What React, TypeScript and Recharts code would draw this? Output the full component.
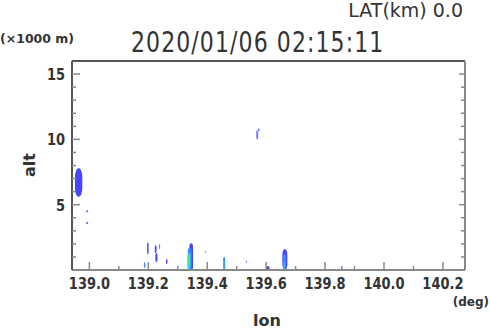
import { ComposedChart, XAxis, YAxis, Scatter, ReferenceArea } from "recharts";

// tick values
const lonMajorTicks = [139.0, 139.2, 139.4, 139.6, 139.8, 140.0, 140.2];
const lonMinorTicks = [139.1, 139.3, 139.5, 139.7, 139.9, 140.1];
const altMajorTicks = [5, 10, 15];
const altMinorTicks = [1, 2, 3, 4, 6, 7, 8, 9, 11, 12, 13, 14];

// echo patches: lon range, alt range (x1000 m), intensity level
const echoLon1 = [138.951, 139.566, 139.572, 139.185, 139.196, 139.222, 139.224, 139.236, 139.260,
  139.339, 139.334, 139.333, 139.334, 139.392, 139.454, 139.455, 139.531, 139.600,
  139.655, 139.658, 139.659, 139.855];
const echoLon2 = [138.976, 139.573, 139.578, 139.190, 139.201, 139.228, 139.231, 139.240, 139.265,
  139.352, 139.347, 139.343, 139.341, 139.395, 139.461, 139.458, 139.535, 139.612,
  139.672, 139.667, 139.663, 139.859];
const echoAlt1 = [5.6, 10.0, 10.6, 0.15, 1.2, 1.3, 0.6, 1.6, 0.45,
  0, 0, 0, 0.3, 1.3, 0, 0.1, 0.55, 0,
  0, 0, 0.1, 0];
const echoAlt2 = [7.8, 10.7, 10.85, 0.6, 2.1, 1.9, 1.3, 2.0, 0.85,
  2.05, 1.7, 1.3, 1.2, 1.5, 1.0, 0.7, 0.75, 0.3,
  1.6, 1.2, 0.6, 0.3];
const echoLevel = [1, 0, 0, 2, 1, 1, 1, 0, 1,
  1, 2, 3, 4, 0, 2, 3, 0, 1,
  1, 2, 3, 1];

// isolated single-pixel returns
const dotLon = [138.992, 138.992];
const dotAlt = [4.5, 3.6];

const levelColors = ["#8080ff", "#4646ff", "#3a8cff", "#20d0ff", "#40f080"];

const dots = dotLon.map((lon, i) => ({ lon, alt: dotAlt[i] }));
const echoes = echoLon1.map((l1, i) => ({
  x1: l1, x2: echoLon2[i], y1: echoAlt1[i], y2: echoAlt2[i], color: levelColors[echoLevel[i]],
}));

const lonTicks = [...lonMajorTicks, ...lonMinorTicks].sort((a, b) => a - b);
const altTicks = [...altMajorTicks, ...altMinorTicks].sort((a, b) => a - b);

const isMajor = (list: number[], v: number) => list.some(t => Math.abs(t - v) < 1e-6);

const TEXT = "#333";
const TICK = "#8a8a8a";
const FONT = "DejaVu Sans";

function BottomTick(props: any) {
  const { x, y, payload } = props;
  const major = isMajor(lonMajorTicks, payload.value);
  return (
    <g>
      <line x1={x} x2={x} y1={y} y2={y - (major ? 8 : 4)} stroke={TICK} strokeWidth={1.5} />
      {major && (
        <text transform={`translate(${x},${y + 19}) scale(1,1.2)`} textAnchor="middle" fill={TEXT}
          fontSize={13} fontWeight="bold" fontFamily={FONT}>{payload.value.toFixed(1)}</text>
      )}
    </g>
  );
}

function TopTick(props: any) {
  const { x, y, payload } = props;
  const major = isMajor(lonMajorTicks, payload.value);
  return <line x1={x} x2={x} y1={y} y2={y + (major ? 6 : 4)} stroke={TICK} strokeWidth={1.5} />;
}

function LeftTick(props: any) {
  const { x, y, payload } = props;
  const major = isMajor(altMajorTicks, payload.value);
  return (
    <g>
      <line x1={x} x2={x + (major ? 8 : 4)} y1={y} y2={y} stroke={TICK} strokeWidth={1.5} />
      {major && (
        <text transform={`translate(${x - 7},${y + 6}) scale(1,1.2)`} textAnchor="end" fill={TEXT}
          fontSize={13} fontWeight="bold" fontFamily={FONT}>{payload.value}</text>
      )}
    </g>
  );
}

function RightTick(props: any) {
  const { x, y, payload } = props;
  const major = isMajor(altMajorTicks, payload.value);
  return <line x1={x} x2={x - (major ? 6 : 4)} y1={y} y2={y} stroke={TICK} strokeWidth={1.5} />;
}

function EchoShape(props: any) {
  const { x, y, width, height, fill } = props;
  const rx = width / 2;
  const ry = Math.min(width * 1.2, height / 2);
  return <rect x={x} y={y} width={width} height={height} rx={rx} ry={ry} fill={fill} />;
}

export default function App() {
  const lonDomain = [138.941, 140.275];
  const altDomain = [0, 16];
  return (
    <div style={{ position: "absolute", left: 0, top: 0, width: 490, height: 331, background: "#fff" }}>
      <ComposedChart width={490} height={331} margin={{ top: 60, right: 24, bottom: 31, left: 12 }}>
        <XAxis xAxisId="b" dataKey="lon" type="number" domain={lonDomain} allowDataOverflow
          ticks={lonTicks} interval={0} tickSize={0} tickMargin={0} tick={<BottomTick />}
          axisLine={{ stroke: "#888", strokeWidth: 2 }} tickLine={false} height={30} />
        <XAxis xAxisId="t" orientation="top" type="number" domain={lonDomain} allowDataOverflow
          ticks={lonTicks} interval={0} tickSize={0} tickMargin={0} tick={<TopTick />}
          axisLine={{ stroke: "#555", strokeWidth: 2 }} tickLine={false} height={1} />
        <YAxis yAxisId="l" dataKey="alt" type="number" domain={altDomain} allowDataOverflow
          ticks={altTicks} interval={0} tickSize={0} tickMargin={0} tick={<LeftTick />}
          axisLine={{ stroke: "#555", strokeWidth: 2 }} tickLine={false} width={60} />
        <YAxis yAxisId="r" orientation="right" type="number" domain={altDomain} allowDataOverflow
          ticks={altTicks} interval={0} tickSize={0} tickMargin={0} tick={<RightTick />}
          axisLine={{ stroke: "#888", strokeWidth: 2 }} tickLine={false} width={1} />
        {echoes.map((e, i) => (
          <ReferenceArea key={i} xAxisId="b" yAxisId="l" x1={e.x1} x2={e.x2} y1={e.y1} y2={e.y2}
            fill={e.color} fillOpacity={1} stroke="none" ifOverflow="hidden" shape={<EchoShape />} />
        ))}
        <Scatter xAxisId="b" yAxisId="l" data={dots} fill="#8080ff" isAnimationActive={false}
          shape={(p: any) => <rect x={p.cx - 1} y={p.cy - 1} width={2} height={2} fill="#8080ff" />} />
      </ComposedChart>
      <svg width={490} height={331} style={{ position: "absolute", left: 0, top: 0, pointerEvents: "none" }}>
        <text x={463} y={17} textAnchor="end" fill={TEXT} fontSize={19} fontFamily={FONT}>LAT(km) 0.0</text>
        <text transform="translate(131,52) scale(1,1.3)" fill={TEXT} fontSize={22} letterSpacing={1.1}
          fontFamily={FONT}>2020/01/06 02:15:11</text>
        <text x={0} y={43} fill={TEXT} fontSize={12.5} fontWeight="bold" fontFamily={FONT}>(×1000 m)</text>
        <text transform="translate(35,165) rotate(-90)" textAnchor="middle" fill={TEXT} fontSize={16}
          fontWeight="bold" fontFamily={FONT}>alt</text>
        <text x={267} y={326} textAnchor="middle" fill={TEXT} fontSize={16} fontWeight="bold"
          fontFamily={FONT}>lon</text>
        <text x={489} y={306} textAnchor="end" fill={TEXT} fontSize={12} fontWeight="bold" fontFamily={FONT}>(deg)</text>
      </svg>
    </div>
  );
}
